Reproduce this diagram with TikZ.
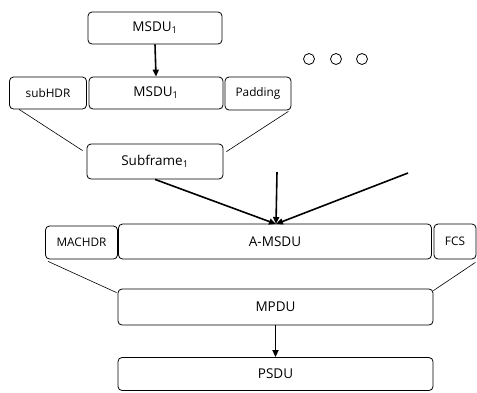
\documentclass[tikz,border=0pt]{standalone}
\usepackage{fontspec}
\setmainfont{Open Sans}
\usetikzlibrary{calc,arrows.meta}
\begin{document}
\begin{tikzpicture}[x=1pt,y=-1pt,
  box/.style={draw, line width=0.8pt, rounded corners=4pt, inner sep=0pt, font=\fontsize{13.5}{15}\selectfont},
  sbox/.style={box, font=\fontsize{11.8}{13}\selectfont},
  arr/.style={line width=1.6pt, -{Triangle[length=7pt,width=6pt]}},
  thin/.style={line width=0.6pt}]
\useasboundingbox (0,0) rectangle (477,392);
\node[box, minimum width=134pt, minimum height=32pt] (m1) at (155,28) {MSDU\textsubscript{1}};
\node[sbox, minimum width=77pt, minimum height=32pt] (sh) at (48,93) {subHDR};
\node[box, minimum width=134pt, minimum height=32pt] (m2) at (156,93) {MSDU\textsubscript{1}};
\node[sbox, minimum width=66pt, minimum height=33pt] (pad) at (258,93.5) {Padding};
\node[box, minimum width=136pt, minimum height=35pt] (sf) at (155,161.5) {Subframe\textsubscript{1}};
\node[sbox, minimum width=72pt, minimum height=33pt] (ma) at (81.5,242.5) {MACHDR};
\node[box, minimum width=313pt, minimum height=35pt] (am) at (275,241.5) {A-MSDU};
\node[sbox, minimum width=42pt, minimum height=35pt] (fcs) at (455,241.5) {FCS};
\node[box, minimum width=315pt, minimum height=36pt] (mp) at (275.5,307) {MPDU};
\node[box, minimum width=315pt, minimum height=33pt] (ps) at (275.5,374) {PSDU};
\foreach \cx/\n in {309/c1,336/c2,362/c3}
  \draw[line width=0.8pt] (\cx,59) circle (5.5pt);
\draw[arr] (m1.south) -- (m2.north);
\draw[thin] ($(sh.south west)+(10,0)$) -- ($(sf.north west)+(-4,7)$);
\draw[thin] ($(pad.south east)+(-3,1)$) -- ($(sf.north east)+(3,8)$);
\coordinate (v) at (277,172);
\coordinate (r) at (408,173);
\coordinate (tip) at (276,224);
\draw[arr] (sf.south) -- (tip);
\draw[arr] (v) -- (tip);
\draw[arr] (r) -- (tip);
\draw[thin] ($(ma.south west)+(3,2)$) -- ($(mp.north west)+(-1,4)$);
\draw[thin] ($(fcs.south east)+(-1,3)$) -- ($(mp.north east)+(0,2)$);
\draw[arr] (mp.south) -- (ps.north);
\end{tikzpicture}
\end{document}
